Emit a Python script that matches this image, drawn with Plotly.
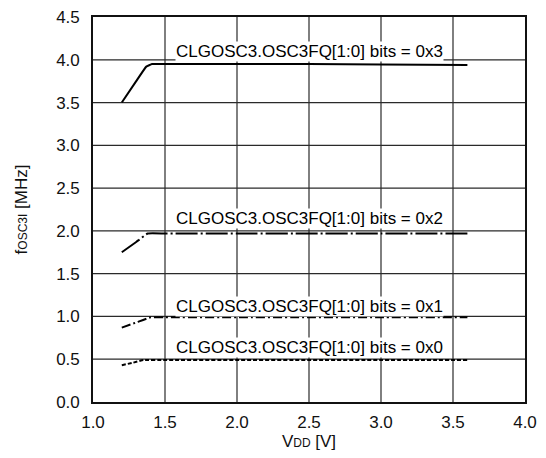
import plotly.graph_objects as go

# Data
vdd_3 = [1.2, 1.3, 1.37, 1.41, 1.5, 2.0, 2.5, 3.0, 3.6]
f_3 = [3.50, 3.75, 3.92, 3.95, 3.95, 3.95, 3.95, 3.945, 3.94]

vdd_2 = [1.2, 1.3, 1.38, 1.5, 2.0, 2.5, 3.0, 3.6]
f_2 = [1.75, 1.87, 1.97, 1.97, 1.97, 1.97, 1.97, 1.97]

vdd_1 = [1.2, 1.3, 1.40, 1.5, 2.0, 2.5, 3.0, 3.6]
f_1 = [0.87, 0.93, 0.99, 0.99, 0.99, 0.99, 0.99, 0.99]

vdd_0 = [1.2, 1.28, 1.35, 1.5, 2.0, 2.5, 3.0, 3.6]
f_0 = [0.43, 0.46, 0.49, 0.49, 0.49, 0.49, 0.49, 0.49]

labels = [
    "CLGOSC3.OSC3FQ[1:0] bits = 0x3",
    "CLGOSC3.OSC3FQ[1:0] bits = 0x2",
    "CLGOSC3.OSC3FQ[1:0] bits = 0x1",
    "CLGOSC3.OSC3FQ[1:0] bits = 0x0",
]
label_x = [2.5, 2.5, 2.5, 2.5]
label_y = [4.10, 2.14, 1.12, 0.64]

x_ticks = [1.0, 1.5, 2.0, 2.5, 3.0, 3.5, 4.0]
y_ticks = [0.0, 0.5, 1.0, 1.5, 2.0, 2.5, 3.0, 3.5, 4.0, 4.5]

FONT = "Liberation Sans, Arial, sans-serif"
FS = 17

fig = go.Figure()

# grid lines at the tick values, drawn as one line trace
gx, gy = [], []
for xv in x_ticks[1:-1]:
    gx += [xv, xv, None]
    gy += [y_ticks[0], y_ticks[-1], None]
for yv in y_ticks[1:-1]:
    gx += [x_ticks[0], x_ticks[-1], None]
    gy += [yv, yv, None]
fig.add_trace(go.Scatter(x=gx, y=gy, mode="lines",
                         line=dict(color="#2a2a2a", width=1.2),
                         showlegend=False, hoverinfo="skip"))

series = [
    (vdd_3, f_3, "solid"),
    (vdd_2, f_2, "22px,3px,2px,3px"),
    (vdd_1, f_1, "9px,3px,2px,3px"),
    (vdd_0, f_0, "4px,2px"),
]
for xs, ys, dash in series:
    fig.add_trace(go.Scatter(
        x=xs, y=ys, mode="lines",
        line=dict(color="black", width=2, dash=dash, shape="spline", smoothing=0.3),
        showlegend=False, hoverinfo="skip",
    ))

for t, xx, yy in zip(labels, label_x, label_y):
    fig.add_annotation(
        x=xx, y=yy, text=t, showarrow=False,
        font=dict(family=FONT, size=FS, color="black"),
        bgcolor="white", borderpad=0,
    )

axis_common = dict(
    showgrid=False,
    showline=True, linecolor="#111111", linewidth=1.6, mirror=True,
    ticks="", zeroline=False, automargin=False,
    tickfont=dict(family=FONT, size=FS, color="#111111"),
)

fig.update_xaxes(
    range=[1.0, 4.0], tickvals=x_ticks,
    ticktext=[f"{v:.1f}" for v in x_ticks],
    ticklabelstandoff=4,
    title=dict(text="V<span style='font-size:12px'>DD</span> [V]",
               font=dict(family=FONT, size=FS, color="#111111"), standoff=4),
    **axis_common,
)
fig.update_yaxes(
    range=[0.0, 4.5], tickvals=y_ticks,
    ticktext=[f"{v:.1f}" for v in y_ticks],
    ticklabelstandoff=8,
    title=dict(text="f<span style='font-size:12px'>OSC3I</span> [MHz]",
               font=dict(family=FONT, size=FS, color="#111111"), standoff=24),
    **axis_common,
)

fig.update_layout(
    width=546, height=458,
    margin=dict(l=93, r=21, t=17, b=56),
    paper_bgcolor="white", plot_bgcolor="white",
    font=dict(family=FONT, size=FS, color="black"),
)

fig.write_html("out.html", config={"displayModeBar": False},
               post_script="document.body.style.margin='0';")
